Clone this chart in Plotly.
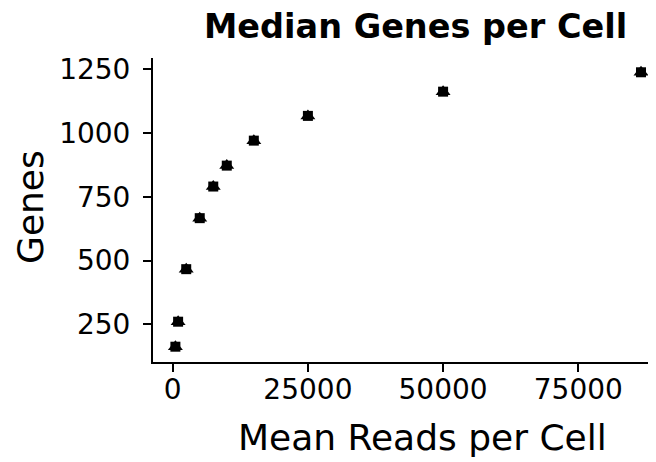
import plotly.graph_objects as go

reads = [500, 1000, 2500, 5000, 7500, 10000, 15000, 25000, 50000, 86600]
genes = [162, 260, 466, 666, 790, 872, 970, 1067, 1162, 1238]

x_ticks = [0, 25000, 50000, 75000]
y_ticks = [250, 500, 750, 1000, 1250]

FONT = "DejaVu Sans, sans-serif"

# page has an 8px body margin; figure coordinates = page coordinates - 8
W, H = 648, 454
L, R, T, B = 145, 0, 50, 100
pw, ph = W - L - R, H - T - B


def px(x):
    return (x - L) / pw


def py(y):
    return (H - y - B) / ph


fig = go.Figure()
fig.add_trace(go.Scatter(x=reads, y=genes, mode="markers",
                         marker=dict(symbol="square", size=10, color="black"),
                         showlegend=False, hoverinfo="skip"))
fig.add_trace(go.Scatter(x=reads, y=genes, mode="markers",
                         marker=dict(symbol="triangle-up", size=13, color="black"),
                         showlegend=False))

fig.update_layout(
    width=W, height=H,
    margin=dict(l=L, r=R, t=T, b=B),
    paper_bgcolor="white", plot_bgcolor="white",
    font=dict(family=FONT, color="black"),
    xaxis=dict(range=[-3643, 89370], tickvals=x_ticks, ticktext=[str(v) for v in x_ticks],
               showgrid=False, zeroline=False, showline=True, linecolor="black", linewidth=2,
               ticks="outside", ticklen=8, tickwidth=2, tickcolor="black",
               ticklabelstandoff=-7,
               tickfont=dict(size=28, color="black", family=FONT)),
    yaxis=dict(range=[102, 1294], tickvals=y_ticks, ticktext=[str(v) for v in y_ticks],
               showgrid=False, zeroline=False, showline=True, linecolor="black", linewidth=2,
               ticks="outside", ticklen=8, tickwidth=2, tickcolor="black",
               ticklabelstandoff=7,
               tickfont=dict(size=28, color="black", family=FONT)),
    annotations=[
        dict(text="<b>Median Genes per Cell</b>", x=px(407), y=py(19), xref="paper", yref="paper",
             showarrow=False, font=dict(size=33.5, family=FONT, color="black"),
             xanchor="center", yanchor="middle"),
        dict(text="Mean Reads per Cell", x=px(414), y=py(429), xref="paper", yref="paper",
             showarrow=False, font=dict(size=36, family=FONT, color="black"),
             xanchor="center", yanchor="middle"),
        dict(text="Genes", x=px(22), y=py(199), xref="paper", yref="paper", textangle=-90,
             showarrow=False, font=dict(size=36, family=FONT, color="black"),
             xanchor="center", yanchor="middle"),
    ],
)

fig.write_html("out.html")
